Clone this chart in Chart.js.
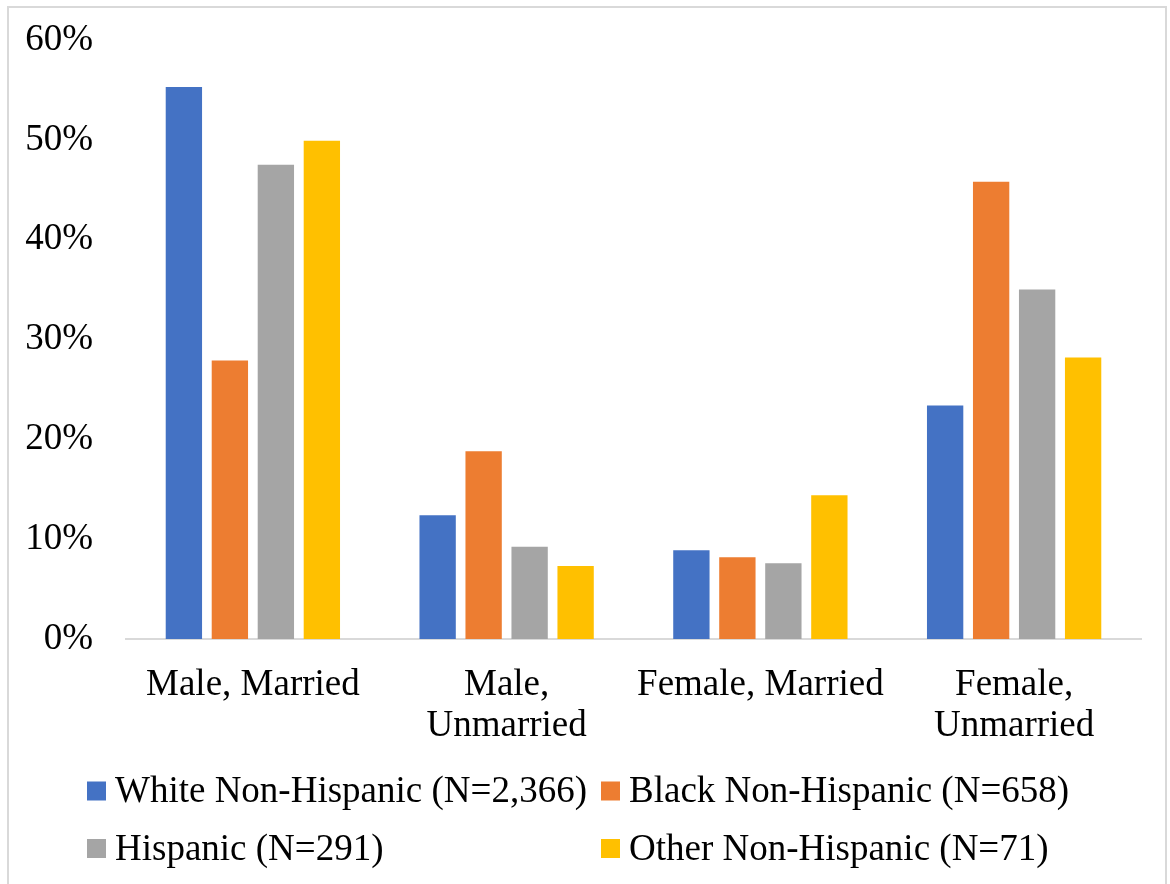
<!DOCTYPE html>
<html>
<head>
<meta charset="utf-8">
<script src="https://cdn.jsdelivr.net/npm/chart.js@4.4.1/dist/chart.umd.min.js"></script>
<style>
  html, body { margin: 0; padding: 0; background: #fff; overflow: hidden; }
  #wrap { position: relative; width: 1170px; height: 884px; }
  #c { position: absolute; left: 0; top: 0; }
  #frame { position: absolute; left: 7px; top: 6px; width: 1160px; height: 900px; border: 2px solid #d9d9d9; box-sizing: border-box; pointer-events: none; }
</style>
</head>
<body>
<div id="wrap">
  <canvas id="c" width="1170" height="884"></canvas>
  <div id="frame"></div>
</div>
<script>
const categories = [["Male, Married"], ["Male,", "Unmarried"], ["Female, Married"], ["Female,", "Unmarried"]];
const seriesNames = ["White Non-Hispanic (N=2,366)", "Black Non-Hispanic (N=658)", "Hispanic (N=291)", "Other Non-Hispanic (N=71)"];
const whiteValues = [55.3, 12.4, 8.9, 23.4];
const blackValues = [27.9, 18.8, 8.2, 45.8];
const hispanicValues = [47.5, 9.25, 7.6, 35.0];
const otherValues = [49.9, 7.3, 14.4, 28.2];
const yTicks = [0, 10, 20, 30, 40, 50, 60];
const colors = ["#4472C4", "#ED7D31", "#A5A5A5", "#FFC000"];

const FONT = "'Liberation Serif', 'Times New Roman', serif";

const legendPlugin = {
  id: 'gridLegend',
  afterDraw(chart) {
    const ctx = chart.ctx;
    const cols = [87, 601];
    const rows = [791, 848.5];
    ctx.save();
    ctx.font = "37px " + FONT;
    ctx.textBaseline = 'alphabetic';
    ctx.textAlign = 'left';
    chart.data.datasets.forEach((ds, i) => {
      const x = cols[i % 2];
      const yc = rows[Math.floor(i / 2)];
      ctx.fillStyle = ds.backgroundColor;
      ctx.fillRect(x, yc - 9.5, 19, 19);
      ctx.fillStyle = '#000';
      ctx.fillText(ds.label, x + 28, yc + 11);
    });
    ctx.restore();
  }
};

const valuesList = [whiteValues, blackValues, hispanicValues, otherValues];

new Chart(document.getElementById('c'), {
  type: 'bar',
  data: {
    labels: categories,
    datasets: seriesNames.map((name, i) => ({
      label: name,
      data: valuesList[i],
      backgroundColor: colors[i],
      borderWidth: 0,
      barPercentage: 0.79,
      categoryPercentage: 0.725
    }))
  },
  options: {
    responsive: false,
    animation: false,
    layout: { padding: { left: 0, right: 29, top: 40, bottom: 135 } },
    plugins: {
      legend: { display: false },
      tooltip: { enabled: false }
    },
    scales: {
      x: {
        grid: { display: false, drawTicks: false, tickLength: 0 },
        border: { display: true, color: '#d9d9d9', width: 2 },
        ticks: {
          color: '#000',
          padding: 25,
          maxRotation: 0,
          autoSkip: false,
          font: { family: FONT, size: 37, lineHeight: 1.13 }
        },
        afterFit(scale) { scale.height = 110; scale.paddingLeft = 0; scale.paddingRight = 0; }
      },
      y: {
        min: 0,
        max: 60,
        afterBuildTicks(scale) { scale.ticks = yTicks.map(v => ({ value: v })); },
        grid: { display: false, drawTicks: false, tickLength: 0 },
        border: { display: false },
        ticks: {
          color: '#000',
          padding: 33,
          font: { family: FONT, size: 37 },
          callback: v => v + '%'
        },
        afterFit(scale) { scale.width = 126; scale.paddingTop = 0; scale.paddingBottom = 0; }
      }
    }
  },
  plugins: [legendPlugin]
});
</script>
</body>
</html>
